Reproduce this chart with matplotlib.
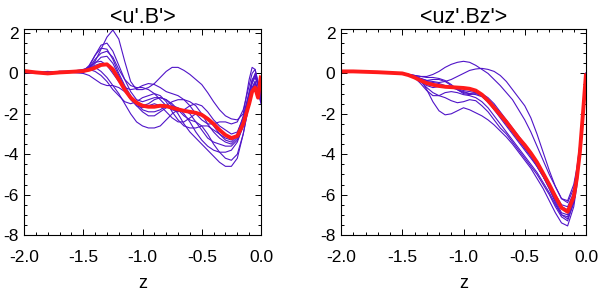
import numpy as np
import matplotlib.pyplot as plt
from matplotlib.ticker import MultipleLocator, FormatStrFormatter

plt.rcParams['font.family'] = ['Liberation Sans', 'DejaVu Sans']
plt.rcParams['axes.unicode_minus'] = False

# depth grid shared by all profiles
Z = [-2.0, -1.9, -1.8, -1.7, -1.6, -1.5, -1.45, -1.4, -1.35, -1.3, -1.25, -1.2,
     -1.15, -1.1, -1.05, -1.0, -0.95, -0.9, -0.85, -0.8, -0.75, -0.7, -0.65,
     -0.6, -0.55, -0.5, -0.45, -0.4, -0.35, -0.3, -0.25, -0.2, -0.15, -0.1,
     -0.075, -0.05, -0.025, 0.0]

# ---- <u'.B'> : individual snapshots ----
UB = [
    [0.10, 0.05, 0.00, 0.05, 0.05, 0.10, 0.25, 0.60, 1.20, 1.80, 2.15, 1.70, 0.60, -0.40, -0.80, -0.80,
     -0.70, -0.50, -0.20, 0.10, 0.30, 0.30, 0.15, -0.05, -0.30, -0.55, -0.95, -1.40, -1.80, -2.10, -2.25,
     -2.30, -2.00, -0.30, 0.30, 0.20, -0.50, -1.20],
    [0.10, 0.00, 0.05, 0.10, 0.10, 0.15, 0.35, 0.90, 1.40, 1.50, 1.10, 0.40, -0.30, -0.90, -1.30, -1.40,
     -1.30, -1.20, -1.20, -1.30, -1.50, -1.80, -2.10, -2.30, -2.40, -2.60, -3.00, -3.50, -3.90, -4.20, -4.30,
     -4.00, -3.00, -1.50, -0.80, -0.50, -0.90, -1.40],
    [0.05, 0.00, 0.00, 0.05, 0.05, 0.10, 0.30, 0.70, 1.00, 1.10, 0.80, 0.20, -0.30, -0.60, -0.70, -0.70,
     -0.80, -1.00, -1.30, -1.60, -1.80, -1.90, -1.80, -1.60, -1.50, -1.60, -1.90, -2.30, -2.60, -2.80, -3.00,
     -2.90, -2.20, -0.90, -0.30, -0.10, -0.50, -1.10],
    [0.10, 0.05, 0.05, 0.00, 0.05, 0.05, 0.20, 0.50, 0.80, 0.85, 0.50, -0.10, -0.70, -1.20, -1.60, -1.90,
     -2.10, -2.10, -1.90, -1.70, -1.60, -1.70, -2.00, -2.40, -2.90, -3.30, -3.60, -3.80, -3.90, -3.90, -3.80,
     -3.40, -2.60, -1.40, -0.70, -0.40, -0.80, -1.30],
    [0.05, 0.05, 0.10, 0.05, 0.05, 0.10, 0.30, 0.55, 0.60, 0.40, 0.00, -0.40, -0.70, -0.80, -0.75, -0.60,
     -0.50, -0.55, -0.70, -0.90, -1.00, -1.10, -1.30, -1.60, -2.00, -2.30, -2.50, -2.50, -2.40, -2.40, -2.50,
     -2.40, -1.80, -0.60, 0.00, 0.20, -0.40, -1.00],
    [0.10, 0.05, 0.05, 0.10, 0.10, 0.20, 0.30, 0.30, 0.10, -0.20, -0.60, -1.00, -1.50, -2.00, -2.40, -2.60,
     -2.70, -2.70, -2.60, -2.30, -2.00, -1.80, -1.80, -2.00, -2.40, -2.80, -3.20, -3.40, -3.50, -3.60, -3.60,
     -3.30, -2.60, -1.60, -1.00, -0.60, -0.90, -1.40],
    [0.10, 0.05, 0.00, 0.05, 0.05, 0.00, -0.10, -0.30, -0.50, -0.60, -0.60, -0.70, -0.90, -1.20, -1.50, -1.60,
     -1.50, -1.30, -1.20, -1.30, -1.60, -2.00, -2.50, -2.90, -3.20, -3.50, -3.80, -4.10, -4.40, -4.60, -4.60,
     -4.20, -3.00, -1.50, -0.80, -0.40, -0.90, -1.50],
    [0.05, 0.00, 0.05, 0.05, 0.10, 0.10, 0.40, 0.90, 1.25, 1.20, 0.70, 0.00, -0.60, -1.10, -1.50, -1.80,
     -1.90, -1.90, -1.80, -1.60, -1.40, -1.30, -1.30, -1.40, -1.60, -2.00, -2.50, -2.90, -3.20, -3.40, -3.50,
     -3.20, -2.40, -1.20, -0.50, -0.20, -0.60, -1.20],
    [0.10, 0.05, 0.05, 0.10, 0.10, 0.15, 0.20, 0.10, -0.10, -0.40, -0.80, -1.10, -1.40, -1.50, -1.40, -1.20,
     -1.10, -1.00, -1.10, -1.40, -1.90, -2.30, -2.60, -2.70, -2.70, -2.60, -2.60, -2.80, -3.00, -3.20, -3.30,
     -3.00, -2.10, -1.00, -0.40, -0.10, -0.60, -1.30],
    [0.10, 0.05, 0.00, 0.05, 0.05, 0.10, 0.20, 0.40, 0.50, 0.45, 0.20, -0.20, -0.80, -1.30, -1.60, -1.70,
     -1.60, -1.50, -1.60, -1.90, -2.20, -2.40, -2.40, -2.20, -2.00, -2.00, -2.20, -2.60, -3.00, -3.30, -3.40,
     -3.10, -2.30, -1.10, -0.40, 0.00, -0.50, -1.10],
]
UB_MEAN = [0.12, 0.05, 0.00, 0.05, 0.08, 0.12, 0.18, 0.28, 0.42, 0.45, 0.20, -0.30, -0.80, -1.20, -1.45,
           -1.60, -1.65, -1.65, -1.60, -1.62, -1.70, -1.78, -1.85, -1.90, -1.95, -2.05, -2.25, -2.50, -2.80,
           -3.05, -3.20, -3.10, -2.50, -1.50, -0.90, -0.70, -1.20, -0.10]

# ---- <uz'.Bz'> : individual snapshots ----
UZBZ = [
    [0.10, 0.10, 0.10, 0.08, 0.05, 0.00, -0.05, -0.10, -0.15, -0.15, -0.05, 0.10, 0.30, 0.45, 0.55, 0.60,
     0.55, 0.40, 0.20, 0.00, -0.30, -0.60, -0.95, -1.30, -1.80, -2.30, -2.90, -3.60, -4.30, -5.00, -5.60,
     -6.20, -6.30, -5.50, -4.70, -3.50, -1.90, 0.00],
    [0.10, 0.10, 0.08, 0.08, 0.05, 0.00, -0.05, -0.15, -0.25, -0.35, -0.40, -0.45, -0.40, -0.30, -0.15, 0.00,
     0.15, 0.22, 0.25, 0.20, 0.10, -0.10, -0.40, -0.80, -1.20, -1.60, -2.20, -3.00, -3.90, -4.80, -5.60,
     -6.20, -6.40, -5.70, -4.80, -3.60, -2.00, 0.00],
    [0.10, 0.10, 0.08, 0.06, 0.04, 0.00, -0.08, -0.20, -0.40, -0.55, -0.60, -0.65, -0.70, -0.70, -0.70, -0.75,
     -0.80, -0.90, -1.10, -1.40, -1.75, -2.10, -2.50, -2.90, -3.30, -3.70, -4.10, -4.60, -5.10, -5.70, -6.40,
     -7.00, -7.20, -6.40, -5.40, -4.00, -2.10, 0.00],
    [0.10, 0.10, 0.08, 0.06, 0.04, 0.00, -0.05, -0.10, -0.25, -0.35, -0.30, -0.30, -0.40, -0.60, -0.80, -0.95,
     -1.00, -0.95, -1.00, -1.20, -1.50, -1.90, -2.30, -2.70, -3.10, -3.50, -3.90, -4.40, -4.90, -5.50, -6.00,
     -6.50, -6.60, -5.90, -5.00, -3.70, -1.90, 0.00],
    [0.10, 0.10, 0.08, 0.06, 0.04, 0.00, -0.08, -0.20, -0.40, -0.60, -0.70, -0.65, -0.60, -0.65, -0.75, -0.85,
     -0.90, -0.95, -1.10, -1.40, -1.70, -2.10, -2.50, -2.90, -3.30, -3.70, -4.10, -4.60, -5.10, -5.70, -6.30,
     -6.90, -7.00, -6.20, -5.20, -3.90, -2.00, 0.00],
    [0.10, 0.10, 0.08, 0.06, 0.04, 0.00, -0.05, -0.10, -0.15, -0.20, -0.20, -0.25, -0.35, -0.55, -0.80, -1.00,
     -1.05, -1.00, -1.10, -1.30, -1.60, -2.00, -2.40, -2.80, -3.20, -3.60, -4.00, -4.50, -5.00, -5.50, -6.10,
     -6.60, -6.75, -6.00, -5.10, -3.80, -2.00, 0.00],
    [0.10, 0.10, 0.08, 0.06, 0.04, 0.00, -0.06, -0.15, -0.30, -0.40, -0.45, -0.50, -0.60, -0.70, -0.80, -0.90,
     -1.00, -1.05, -1.15, -1.40, -1.80, -2.20, -2.60, -3.00, -3.40, -3.80, -4.20, -4.60, -5.10, -5.60, -6.20,
     -6.70, -6.80, -6.00, -5.10, -3.80, -2.00, 0.00],
    [0.10, 0.10, 0.08, 0.06, 0.04, 0.00, -0.05, -0.20, -0.50, -0.85, -1.10, -1.10, -0.95, -0.90, -0.95, -1.05,
     -1.10, -1.20, -1.40, -1.70, -2.10, -2.50, -2.90, -3.30, -3.70, -4.10, -4.50, -4.90, -5.40, -5.90, -6.50,
     -7.00, -7.10, -6.30, -5.30, -3.90, -2.10, 0.00],
    [0.10, 0.10, 0.08, 0.06, 0.04, 0.00, -0.10, -0.20, -0.40, -0.70, -0.95, -1.10, -1.20, -1.35, -1.45, -1.40,
     -1.30, -1.35, -1.60, -1.90, -2.30, -2.70, -3.00, -3.40, -3.80, -4.20, -4.60, -5.00, -5.50, -6.00, -6.60,
     -7.10, -7.30, -6.40, -5.40, -4.00, -2.10, 0.00],
    [0.10, 0.10, 0.08, 0.06, 0.04, 0.00, -0.10, -0.15, -0.30, -0.80, -1.40, -1.85, -2.05, -2.00, -1.85, -1.70,
     -1.80, -1.95, -2.10, -2.30, -2.55, -2.85, -3.15, -3.50, -3.90, -4.30, -4.70, -5.20, -5.70, -6.30, -6.90,
     -7.40, -7.55, -6.60, -5.60, -4.10, -2.20, 0.00],
]
UZBZ_MEAN = [0.10, 0.10, 0.08, 0.06, 0.03, 0.00, -0.08, -0.20, -0.35, -0.48, -0.56, -0.62, -0.66, -0.68,
             -0.70, -0.72, -0.76, -0.85, -1.05, -1.35, -1.70, -2.05, -2.40, -2.80, -3.20, -3.55, -3.95,
             -4.40, -4.95, -5.50, -6.10, -6.65, -6.85, -6.10, -5.20, -3.90, -2.00, 0.00]

TITLES = ["<u'.B'>", "<uz'.Bz'>"]
BLUE = "#5014c8"
RED = "#ff1a1a"

fig = plt.figure(figsize=(6.0, 2.93), dpi=100)
ax1 = fig.add_axes([24 / 600, 58 / 293, 237 / 600, 206 / 293])
ax2 = fig.add_axes([341 / 600, 58 / 293, 245 / 600, 206 / 293])

for ax, curves, mean, title in [(ax1, UB, UB_MEAN, TITLES[0]), (ax2, UZBZ, UZBZ_MEAN, TITLES[1])]:
    for c in curves:
        ax.plot(Z, c, color=BLUE, lw=0.8)
    ax.plot(Z, mean, color=RED, lw=2.8, solid_capstyle='butt')
    ax.set_xlim(-2.0, 0.0)
    ax.set_ylim(-8.0, 2.2)
    ax.xaxis.set_major_locator(MultipleLocator(0.5))
    ax.xaxis.set_minor_locator(MultipleLocator(0.1))
    ax.yaxis.set_major_locator(MultipleLocator(2))
    ax.yaxis.set_minor_locator(MultipleLocator(0.5))
    ax.xaxis.set_major_formatter(FormatStrFormatter('%.1f'))
    ax.tick_params(which='both', direction='in', top=True, right=True, labelsize=12.5, width=0.7)
    ax.tick_params(which='major', length=4.5)
    ax.tick_params(which='minor', length=2.2)
    ax.tick_params(axis='x', pad=11)
    ax.tick_params(axis='y', pad=4)
    for s in ax.spines.values():
        s.set_linewidth(0.8)
    ax.set_xlabel('z', fontsize=13, labelpad=7)
    ax.set_title(title, fontsize=15.5, pad=4)

fig.savefig('out.png', dpi=100)
